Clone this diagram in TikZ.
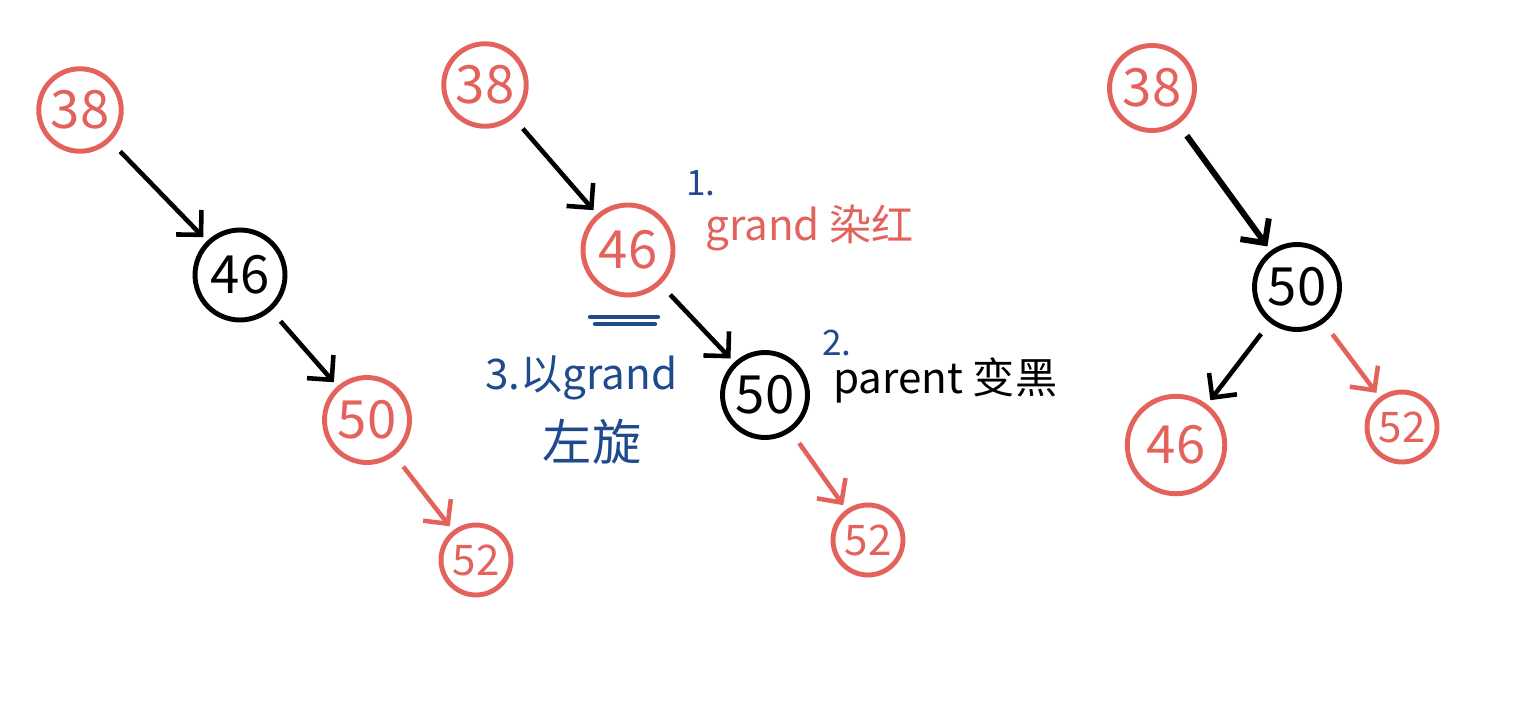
\documentclass[tikz,border=0pt]{standalone}
\usepackage{fontspec}
\setmainfont{Noto Sans CJK SC}
\usetikzlibrary{arrows.meta}

\definecolor{penred}{HTML}{E3625C}
\definecolor{penblue}{HTML}{1F4B8E}

\tikzset{
  rbnode/.style={circle, line width=2.8pt, inner sep=0pt, font=\fontsize{30}{30}\selectfont},
  rednode/.style={rbnode, draw=penred, text=penred},
  blacknode/.style={rbnode, draw=black, text=black},
  link/.style={line width=2.6pt, -{Straight Barb[length=10pt,width=20pt]}, shorten <=8pt, shorten >=3pt},
  redlink/.style={link, draw=penred},
  note/.style={anchor=west, inner sep=0pt, font=\fontsize{24}{24}\selectfont},
}

\begin{document}
\begin{tikzpicture}[x=0.02cm, y=-0.02cm]
\useasboundingbox (0,0) rectangle (1537,706);

% Tree 1: 38 -> 46 -> 50 -> 52
\node[rednode, minimum size=1.65cm] (ta38) at (80,110) {38};
\node[blacknode, minimum size=1.8cm] (ta46) at (240,275) {46};
\node[rednode, minimum size=1.7cm] (ta50) at (367,420) {50};
\node[rednode, minimum size=1.4cm, font=\fontsize{24}{24}\selectfont] (ta52) at (476,560) {52};
\draw[link] (ta38) -- (ta46);
\draw[link] (ta46) -- (ta50);
\draw[redlink] (ta50) -- (ta52);

% Tree 2: recolour, then rotate at grand
\node[rednode, minimum size=1.65cm] (tb38) at (485,85) {38};
\node[rednode, minimum size=1.8cm] (tb46) at (628,250) {46};
\node[blacknode, minimum size=1.7cm] (tb50) at (765,395) {50};
\node[rednode, minimum size=1.4cm, font=\fontsize{24}{24}\selectfont] (tb52) at (868,540) {52};
\draw[link] (tb38) -- (tb46);
\draw[link] (tb46) -- (tb50);
\draw[redlink] (tb50) -- (tb52);
\draw[penblue, line width=2.4pt, line cap=round] (590,317) -- (658,317);
\draw[penblue, line width=2.4pt, line cap=round] (595,324) -- (655,324);

\node[note, text=penblue, font=\fontsize{20}{20}\selectfont] (n1) at (686,183) {1.};
\node[note, text=penred] (grand) at (705,228) {grand 染红};
\node[note, text=penblue, font=\fontsize{20}{20}\selectfont] (n2) at (822,343) {2.};
\node[note, text=black] (parent) at (833,380) {parent 变黑};
\node[note, text=penblue] (rot) at (485,378) {3.以grand};
\node[text=penblue, inner sep=0pt, font=\fontsize{28}{28}\selectfont] (rotb) at (592,442) {左旋};

% Tree 3: after the rotation
\node[rednode, minimum size=1.7cm] (tc38) at (1152,88) {38};
\node[blacknode, minimum size=1.7cm] (tc50) at (1297,287) {50};
\node[rednode, minimum size=1.95cm] (tc46) at (1176,445) {46};
\node[rednode, minimum size=1.4cm, font=\fontsize{24}{24}\selectfont] (tc52) at (1402,427) {52};
\draw[link, line width=3.4pt] (tc38) -- (tc50);
\draw[link] (tc50) -- (tc46);
\draw[redlink] (tc50) -- (tc52);
\end{tikzpicture}
\end{document}
